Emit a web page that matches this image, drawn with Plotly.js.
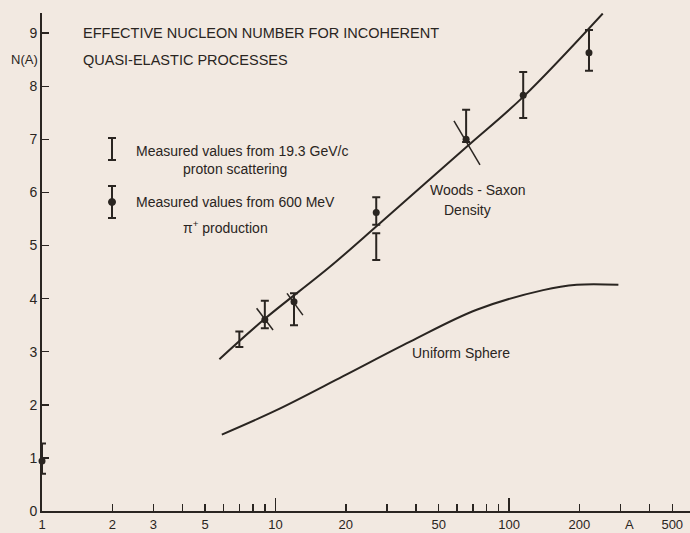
<!DOCTYPE html>
<html><head><meta charset="utf-8">
<script src="https://cdn.plot.ly/plotly-3.0.1.min.js"></script>
<style>html,body{margin:0;padding:0;background:#f2e9e1;}</style>
</head><body>
<div id="chart" style="width:690px;height:533px;"></div>
<script>
// ---- data ----
const wsA = [5.75, 9, 17.1, 28, 65.9, 115, 252];
const wsN = [2.86, 3.62, 4.6, 5.42, 6.86, 7.8, 9.37];

const usA = [5.89, 10.1, 19.5, 37.7, 72.7, 140, 195, 294];
const usN = [1.44, 1.90, 2.54, 3.19, 3.79, 4.16, 4.26, 4.26];

const pionA  = [1, 9, 12, 27, 65.5, 115, 220];
const pionN  = [0.94, 3.6, 3.94, 5.62, 7.0, 7.83, 8.63];
const pionHi = [1.27, 3.96, 4.1, 5.91, 7.56, 8.27, 9.06];
const pionLo = [0.70, 3.44, 3.5, 5.39, 6.95, 7.40, 8.29];

const protA  = [7, 27];
const protHi = [3.38, 5.23];
const protLo = [3.09, 4.73];

const tiltA0 = [8.3, 11.2, 58.1];
const tiltN0 = [3.82, 4.1, 7.35];
const tiltA1 = [9.76, 13.1, 75.1];
const tiltN1 = [3.41, 3.69, 6.52];

const xLabelVals = [1, 2, 3, 5, 10, 20, 50, 100, 200, 500];
const xMinorVals = [4, 6, 7, 8, 9, 30, 40, 60, 70, 80, 90, 300, 400];
const xLongVals  = [10, 100];
const yTickVals  = [0, 1, 2, 3, 4, 5, 6, 7, 8, 9];

// ---- helpers ----
const ink = '#2a2521';
const FONT = '"Liberation Sans", Arial, sans-serif';
const W = 690, H = 533, L = 42, R = 0, T = 13, B = 22;
const pw = W - L - R, ph = H - T - B;
const px = x => (x - L) / pw;
const py = y => (H - B - y) / ph;

const protMid = protHi.map((h, i) => (h + protLo[i]) / 2);
const tiltX = [], tiltY = [];
tiltA0.forEach((a, i) => { tiltX.push(a, tiltA1[i], null); tiltY.push(tiltN0[i], tiltN1[i], null); });

const traces = [
  {x: wsA, y: wsN, mode: 'lines', line: {color: ink, width: 2, shape: 'spline', smoothing: 1}, hoverinfo: 'skip'},
  {x: usA, y: usN, mode: 'lines', line: {color: ink, width: 2, shape: 'spline', smoothing: 1}, hoverinfo: 'skip'},
  {x: tiltX, y: tiltY, mode: 'lines', line: {color: ink, width: 1.5}, hoverinfo: 'skip'},
  {x: protA, y: protMid, mode: 'markers', marker: {size: 1, color: 'rgba(0,0,0,0)'},
   error_y: {type: 'data', symmetric: false,
     array: protHi.map((h, i) => h - protMid[i]),
     arrayminus: protLo.map((l, i) => protMid[i] - l),
     color: ink, thickness: 2, width: 4}},
  {x: pionA, y: pionN, mode: 'markers', cliponaxis: false,
   marker: {size: 7, color: ink},
   error_y: {type: 'data', symmetric: false,
     array: pionHi.map((h, i) => h - pionN[i]),
     arrayminus: pionLo.map((l, i) => pionN[i] - l),
     color: ink, thickness: 2, width: 4}},
  {x: [10], y: [0], xaxis: 'x2', mode: 'markers', marker: {size: 1, color: 'rgba(0,0,0,0)'}, hoverinfo: 'skip'}
];

const ann = (x, y, text, size, xanchor) => ({xref: 'paper', yref: 'paper', x: px(x), y: py(y), text: text,
  showarrow: false, xanchor: xanchor || 'left', yanchor: 'middle', font: {family: FONT, size: size || 13, color: ink}});

const layout = {
  width: W, height: H,
  margin: {l: L, r: R, t: T, b: B, pad: 0},
  paper_bgcolor: '#f2e9e1', plot_bgcolor: '#f2e9e1',
  showlegend: false,
  font: {family: FONT, color: ink, size: 13},
  xaxis: {type: 'log', range: [0, 2.775], showgrid: false, zeroline: false,
    showline: true, linecolor: ink, linewidth: 2,
    tickmode: 'array', tickvals: xLabelVals.concat(xMinorVals),
    ticktext: xLabelVals.map(String).concat(xMinorVals.map(() => ' ')),
    ticks: 'inside', ticklen: 7, tickwidth: 1.5, tickcolor: ink,
    ticklabelstandoff: 0, tickfont: {family: FONT, size: 13, color: ink}},
  xaxis2: {type: 'log', overlaying: 'x', anchor: 'y', side: 'bottom', range: [0, 2.775],
    showgrid: false, zeroline: false, showline: false, showticklabels: false,
    tickmode: 'array', tickvals: xLongVals, ticks: 'inside', ticklen: 13, tickwidth: 1.5, tickcolor: ink},
  yaxis: {range: [0, 9.38], showgrid: false, zeroline: false,
    showline: true, linecolor: ink, linewidth: 2,
    tickmode: 'array', tickvals: yTickVals, ticks: 'inside', ticklen: 7, tickwidth: 1.5, tickcolor: ink,
    tickfont: {family: FONT, size: 14, color: ink}},
  annotations: [
    ann(81, 33, 'EFFECTIVE NUCLEON NUMBER FOR INCOHERENT', 14.5),
    ann(81, 60, 'QUASI-ELASTIC PROCESSES', 14.5),
    ann(24, 60, 'N(A)', 13, 'center'),
    ann(134, 151, 'Measured values from 19.3 GeV/c', 14),
    ann(181, 169, 'proton scattering', 14),
    ann(134, 202, 'Measured values from 600 MeV', 14),
    ann(181, 227, 'π<sup>+</sup> production', 14),
    ann(428, 190, 'Woods - Saxon', 14),
    ann(442, 210, 'Density', 14),
    ann(410, 353, 'Uniform Sphere', 14),
    ann(629, 524, 'A', 13, 'center')
  ],
  shapes: [
    // legend symbol: proton bar
    {type: 'line', xref: 'paper', yref: 'paper', x0: px(112), x1: px(112), y0: py(138), y1: py(160), line: {color: ink, width: 2}},
    {type: 'line', xref: 'paper', yref: 'paper', x0: px(108), x1: px(116), y0: py(138), y1: py(138), line: {color: ink, width: 2}},
    {type: 'line', xref: 'paper', yref: 'paper', x0: px(108), x1: px(116), y0: py(160), y1: py(160), line: {color: ink, width: 2}},
    // legend symbol: pion dot + bar
    {type: 'line', xref: 'paper', yref: 'paper', x0: px(112), x1: px(112), y0: py(186), y1: py(218), line: {color: ink, width: 2}},
    {type: 'line', xref: 'paper', yref: 'paper', x0: px(108), x1: px(116), y0: py(186), y1: py(186), line: {color: ink, width: 2}},
    {type: 'line', xref: 'paper', yref: 'paper', x0: px(108), x1: px(116), y0: py(218), y1: py(218), line: {color: ink, width: 2}},
    {type: 'circle', xref: 'paper', yref: 'paper', x0: px(108.5), x1: px(115.5), y0: py(198.5), y1: py(205.5), fillcolor: ink, line: {color: ink, width: 1}}
  ]
};

Plotly.newPlot('chart', traces, layout, {staticPlot: true, displayModeBar: false});
</script>
</body></html>
